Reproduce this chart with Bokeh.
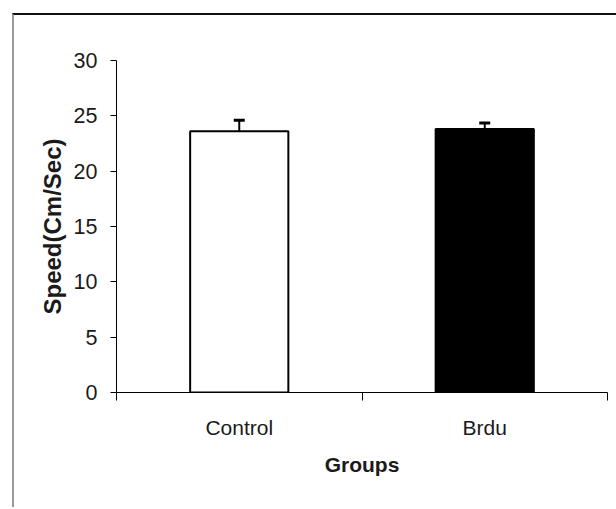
from bokeh.plotting import figure
from bokeh.models import (FactorRange, Range1d, LinearAxis, CategoricalAxis, FixedTicker,
                          ColumnDataSource, Whisker, TeeHead)
from bokeh.embed import file_html
from bokeh.resources import INLINE

groups = ["Control", "Brdu"]
speed = [23.6, 23.8]
sem = [1.0, 0.55]
fills = ["white", "black"]
y_ticks = [0, 5, 10, 15, 20, 25, 30]
group_edges = [0, 1, 2]

FONT = "Liberation Sans"
TXT = "#1a1a1a"

src = ColumnDataSource(dict(
    g=groups, v=speed, fill=fills,
    up=[m + s for m, s in zip(speed, sem)],
))

p = figure(x_range=FactorRange(*groups, range_padding=0), y_range=Range1d(0, 30),
           frame_width=491, frame_height=332,
           min_border_left=102, min_border_right=9, min_border_top=45, min_border_bottom=115,
           x_axis_location=None, y_axis_location=None,
           output_backend="svg", toolbar_location=None)
p.styles = {"margin-left": "12px", "margin-top": "13px",
            "border-top": "2px solid #111111", "border-left": "2px solid #999999"}
p.outline_line_color = None
p.xgrid.visible = False
p.ygrid.visible = False
p.background_fill_color = "white"
p.border_fill_color = "white"

p.vbar(x="g", top="v", bottom=0, width=0.4, source=src,
       fill_color="fill", line_color="black", line_width=2)

w = Whisker(base="g", upper="up", lower="v", source=src,
            line_color="black", line_width=2,
            upper_head=TeeHead(size=11, line_width=3, line_color="black"),
            lower_head=None)
p.add_layout(w)

yaxis = LinearAxis(ticker=FixedTicker(ticks=y_ticks), axis_label="Speed(Cm/Sec)")
yaxis.major_tick_out = 6
yaxis.major_tick_in = 0
yaxis.minor_tick_line_color = None
yaxis.axis_line_color = "black"
yaxis.major_tick_line_color = "black"
yaxis.major_label_text_font = FONT
yaxis.major_label_text_font_size = "21.5px"
yaxis.major_label_text_color = TXT
yaxis.major_label_standoff = 13
yaxis.axis_label_text_font = FONT
yaxis.axis_label_text_font_size = "24px"
yaxis.axis_label_text_font_style = "bold"
yaxis.axis_label_text_color = TXT
yaxis.axis_label_standoff = 5
p.add_layout(yaxis, "left")

xticks = LinearAxis(ticker=FixedTicker(ticks=group_edges))
xticks.major_tick_out = 8
xticks.major_tick_in = 0
xticks.minor_tick_line_color = None
xticks.axis_line_color = "black"
xticks.major_tick_line_color = "black"
xticks.major_label_overrides = {e: "" for e in group_edges}
xticks.major_label_text_font_size = "1px"
xticks.major_label_standoff = 0
p.add_layout(xticks, "below")

xlab = CategoricalAxis(axis_label="Groups")
xlab.axis_line_color = None
xlab.major_tick_line_color = None
xlab.major_tick_out = 0
xlab.major_tick_in = 0
xlab.minor_tick_line_color = None
xlab.major_label_text_font = FONT
xlab.major_label_text_font_size = "21px"
xlab.major_label_text_color = TXT
xlab.major_label_standoff = 15
xlab.axis_label_text_font = FONT
xlab.axis_label_text_font_size = "21px"
xlab.axis_label_text_font_style = "bold"
xlab.axis_label_text_color = TXT
xlab.axis_label_standoff = 11
p.add_layout(xlab, "below")

open("out.html", "w").write(file_html(p, INLINE))
